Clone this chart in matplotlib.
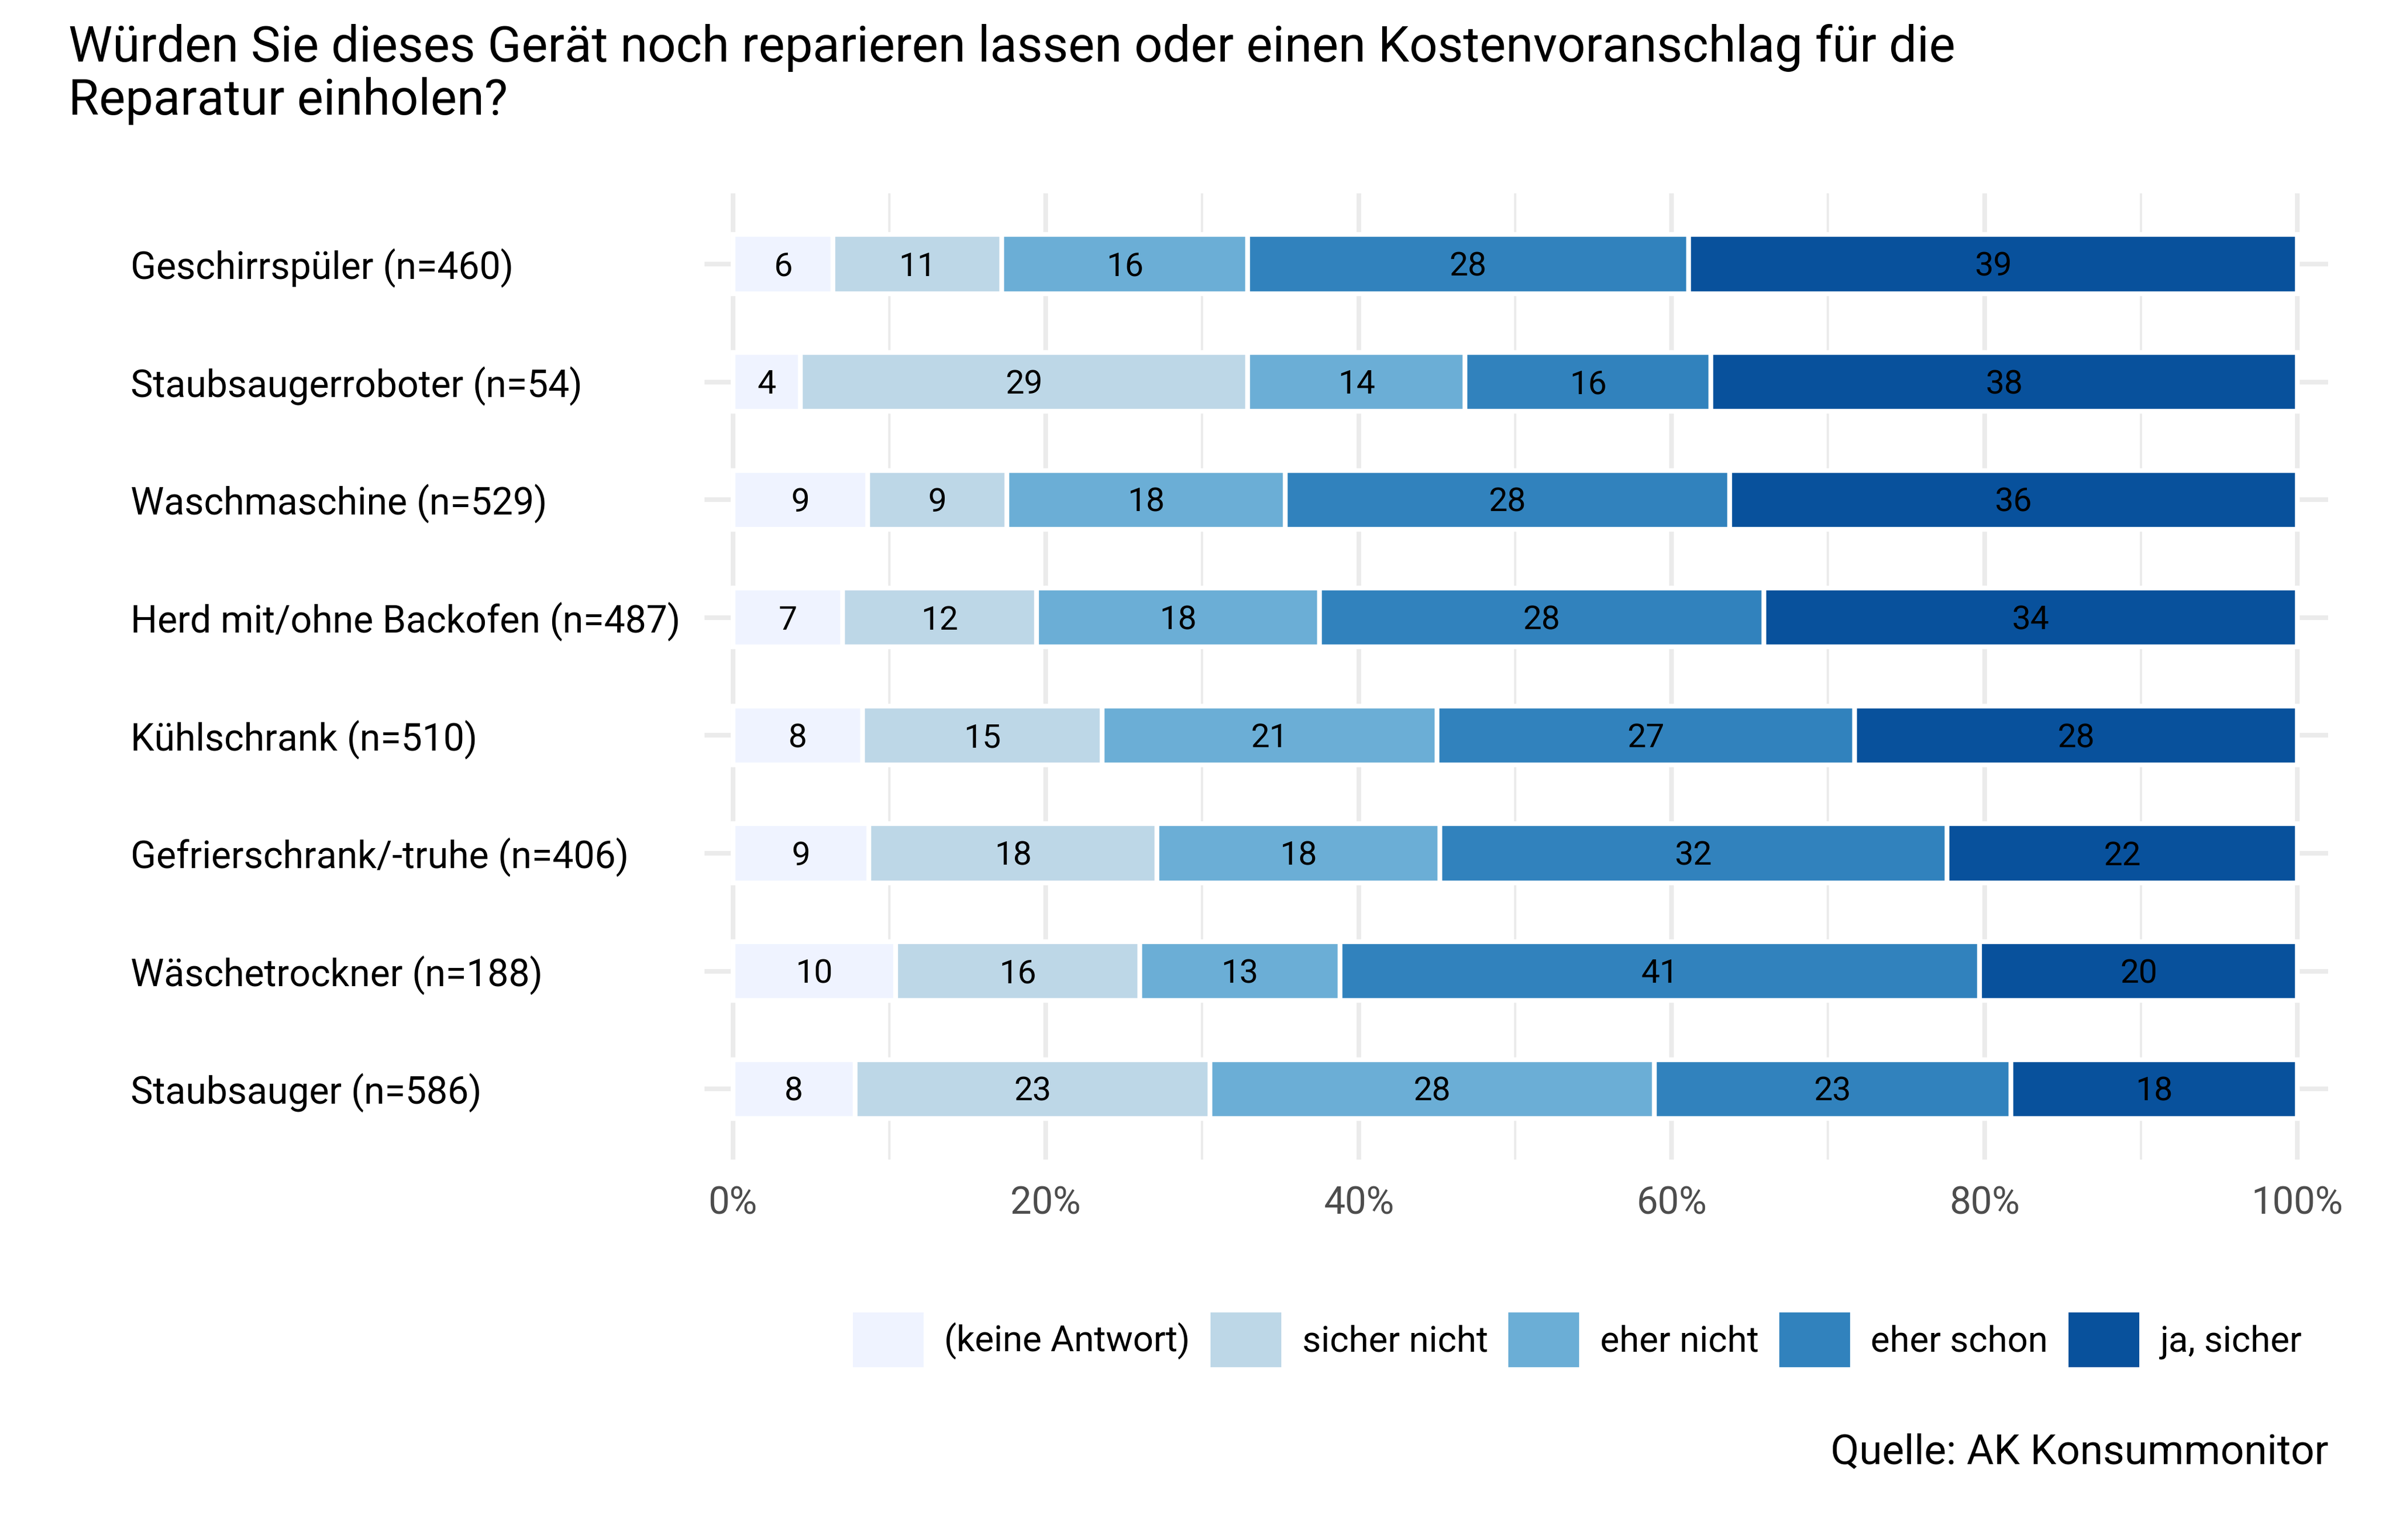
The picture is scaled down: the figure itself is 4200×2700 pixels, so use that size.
import numpy as np
import matplotlib
matplotlib.use("Agg")
import matplotlib.pyplot as plt
import matplotlib.transforms as mtransforms
from matplotlib.patches import Patch

plt.rcParams['font.family'] = ['Roboto', 'DejaVu Sans']

# Geräte, von oben nach unten
categories = [
    "Geschirrspüler (n=460)",
    "Staubsaugerroboter (n=54)",
    "Waschmaschine (n=529)",
    "Herd mit/ohne Backofen (n=487)",
    "Kühlschrank (n=510)",
    "Gefrierschrank/-truhe (n=406)",
    "Wäschetrockner (n=188)",
    "Staubsauger (n=586)",
]

answers = ["(keine Antwort)", "sicher nicht", "eher nicht", "eher schon", "ja, sicher"]
colors = ["#EFF3FF", "#BDD7E7", "#6BAED6", "#3182BD", "#08519C"]

# Anteile in Prozent (aus dem Bild geschätzt)
keine_antwort = [6.4, 4.3, 8.6, 7.0, 8.3, 8.7, 10.4, 7.8]
sicher_nicht = [10.8, 28.6, 8.9, 12.4, 15.3, 18.4, 15.6, 22.7]
eher_nicht = [15.7, 13.9, 17.8, 18.1, 21.4, 18.1, 12.8, 28.4]
eher_schon = [28.2, 15.7, 28.4, 28.4, 26.7, 32.4, 40.9, 22.8]
ja_sicher = [38.9, 37.5, 36.3, 34.1, 28.3, 22.4, 20.3, 18.3]

series = [keine_antwort, sicher_nicht, eher_nicht, eher_schon, ja_sicher]

title_lines = [
    "Würden Sie dieses Gerät noch reparieren lassen oder einen Kostenvoranschlag für die",
    "Reparatur einholen?",
]
caption = "Quelle: AK Konsummonitor"

fig = plt.figure(figsize=(14, 9), dpi=300)
ax = fig.add_axes([0.2940, 0.2470, 0.6777, 0.6274])

y = np.arange(len(categories))
left = np.zeros(len(categories))
# Zahlen vertikal auf Ziffernmitte setzen
txt_shift = mtransforms.ScaledTranslation(0, -0.711 * 14 / 2 / 72, fig.dpi_scale_trans)

for vals, col in zip(series, colors):
    vals = np.array(vals)
    ax.barh(y, vals, left=left, height=0.5, color=col, edgecolor="white", linewidth=2.0, zorder=2)
    for yi, l, v in zip(y, left, vals):
        ax.text(l + v / 2, yi, f"{int(round(v))}", ha="center", va="baseline",
                fontsize=14, color="black", transform=ax.transData + txt_shift, zorder=3)
    left += vals

ax.set_xlim(-1.82, 101.97)
ax.set_ylim(len(categories) - 0.4, -0.6)

ax.set_xticks(np.arange(0, 101, 20))
ax.set_xticklabels([f"{v}%" for v in range(0, 101, 20)])
ax.set_xticks(np.arange(10, 100, 20), minor=True)
ax.set_yticks(y)
ax.set_yticklabels(categories, ha="left")

ax.tick_params(axis="x", which="both", length=0, pad=11, labelsize=16, labelcolor="#4D4D4D")
ax.tick_params(axis="y", length=0, pad=241.5, labelsize=15.8, labelcolor="black")

ax.grid(which="major", color="#EBEBEB", linewidth=1.95, zorder=0)
ax.grid(which="minor", axis="x", color="#EBEBEB", linewidth=0.98, zorder=0)
ax.set_axisbelow(True)
for s in ax.spines.values():
    s.set_visible(False)

handles = [Patch(facecolor=c, edgecolor="none") for c in colors]
fig.legend(handles, answers, loc="center left", bbox_to_anchor=(1495 / 4200, 0.130),
           ncol=5, frameon=False, fontsize=15.2, handlelength=1.96, handleheight=1.96,
           handletextpad=0.57, columnspacing=0.57, borderpad=0, borderaxespad=0)

fig.text(0.0286, 0.9600, title_lines[0], fontsize=20.9, va="baseline", ha="left")
fig.text(0.0286, 0.9255, title_lines[1], fontsize=20.9, va="baseline", ha="left")
fig.text(0.9717, 0.0493, caption, fontsize=17.5, ha="right", va="baseline")

fig.savefig("out.png", dpi=300)
